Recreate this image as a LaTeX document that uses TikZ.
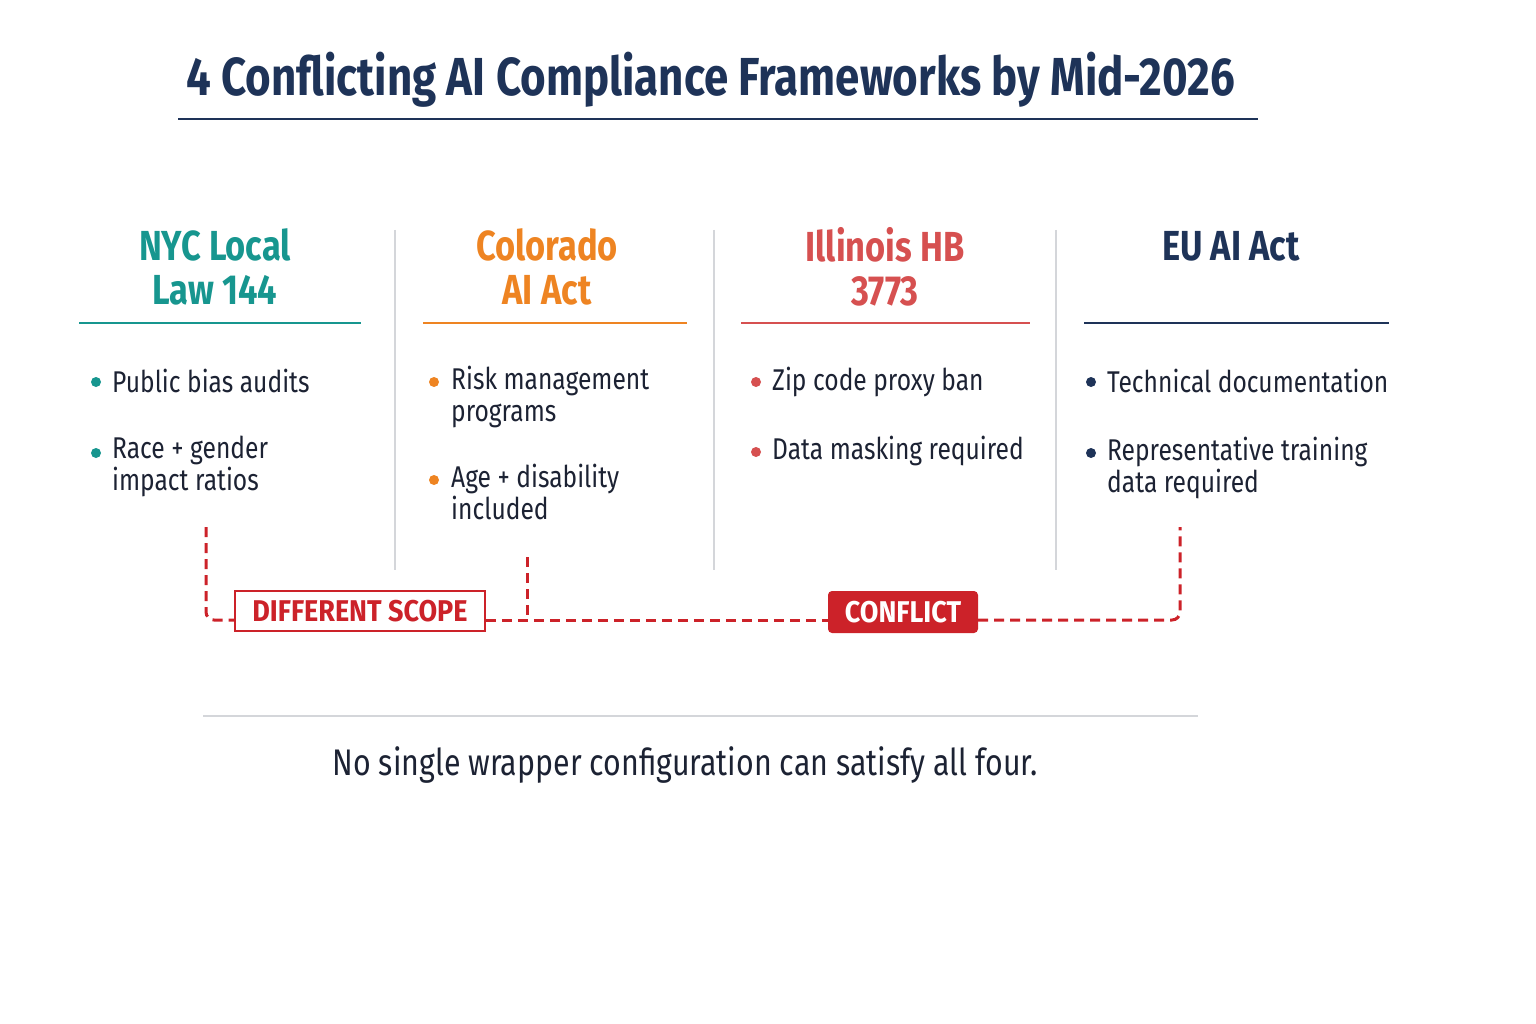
\documentclass[tikz,border=0pt]{standalone}
\usepackage{fontspec}
\setmainfont{Fira Sans}[FakeStretch=0.82]
\newfontfamily\labfont{Fira Sans}[FakeStretch=0.9]
\usetikzlibrary{positioning}
\definecolor{navy}{HTML}{1E3358}
\definecolor{teal}{HTML}{17968F}
\definecolor{orng}{HTML}{EE8422}
\definecolor{ilred}{HTML}{D65050}
\definecolor{dred}{HTML}{CC2229}
\definecolor{txt}{HTML}{1C2233}
\definecolor{sep}{HTML}{D4D6DA}
\tikzset{
  head/.style={font=\fontsize{42}{44}\selectfont\bfseries, align=center, inner sep=0pt},
  item/.style={font=\fontsize{30}{32}\selectfont, text=txt, anchor=west, align=left, inner sep=0pt},
  dot/.style={circle, inner sep=0pt, minimum size=10pt},
  dashline/.style={draw=dred, line width=3pt, dash pattern=on 10pt off 6pt},
  sepline/.style={draw=sep, line width=1.3pt},
  lab/.style={inner sep=0pt, font=\fontsize{30}{32}\labfont\bfseries},
}
\begin{document}
\begin{tikzpicture}[x=1pt,y=-1pt]
\useasboundingbox (0,0) rectangle (1536,1024);
% title
\node[anchor=west, inner sep=0pt, text=navy, font=\fontsize{53.5}{56}\selectfont\bfseries] (title) at (186,80) {4 Conflicting AI Compliance Frameworks by Mid-2026};
\draw[navy, line width=1.6pt] (178,119) -- (1258,119);
% headings
\node[head, text=teal] (h1) at (215,267) {NYC Local\\Law 144};
\node[head, text=orng] (h2) at (547,267) {Colorado\\AI Act};
\node[head, text=ilred] (h3) at (885,267) {Illinois HB\\3773};
\node[head, text=navy] (h4) at (1231,246) {EU AI Act};
\draw[teal, line width=1.6pt] (79,323) -- (361,323);
\draw[orng, line width=1.6pt] (423,323) -- (687,323);
\draw[ilred, line width=1.6pt] (741,323) -- (1030,323);
\draw[navy, line width=1.6pt] (1084,323) -- (1389,323);
% separators
\draw[sepline] (395,230) -- (395,570);
\draw[sepline] (714,230) -- (714,570);
\draw[sepline] (1056,230) -- (1056,570);
% NYC items
\node[dot, fill=teal] (d11) at (96,382) {};
\node[item] (t11) at (112,381) {Public bias audits};
\node[dot, fill=teal] (d12) at (96,453) {};
\node[item, anchor=north west] (t12) at (112,436) {Race + gender\\impact ratios};
% Colorado
\node[dot, fill=orng] (d21) at (434,382) {};
\node[item, anchor=north west] (t21) at (451,366) {Risk management\\programs};
\node[dot, fill=orng] (d22) at (434,480) {};
\node[item, anchor=north west] (t22) at (451,464) {Age + disability\\included};
% Illinois
\node[dot, fill=ilred] (d31) at (756,382) {};
\node[item] (t31) at (772,382) {Zip code proxy ban};
\node[dot, fill=ilred] (d32) at (756,452) {};
\node[item] (t32) at (772,451) {Data masking required};
% EU
\node[dot, fill=navy] (d41) at (1091,382) {};
\node[item] (t41) at (1107,381) {Technical documentation};
\node[dot, fill=navy] (d42) at (1091,453) {};
\node[item, anchor=north west] (t42) at (1107,437) {Representative training\\data required};
% connectors
\coordinate (liney) at (0,620);
\coordinate (nycdrop) at (206,527);
\coordinate (codrop) at (527,557);
\coordinate (eudrop) at (1180,527);
\node[lab, draw=dred, line width=1.8pt, fill=white, text=dred, minimum width=250pt, minimum height=40pt] (ds) at (360,611) {DIFFERENT SCOPE};
\node[lab, fill=dred, rounded corners=4pt, text=white, minimum width=150pt, minimum height=42pt] (cf) at (903,612) {CONFLICT};
\draw[dashline, rounded corners=8pt] (nycdrop) |- (ds.west |- liney);
\draw[dashline] (ds.east |- liney) -- (cf.west |- liney);
\draw[dashline] (codrop) -- (codrop |- liney);
\draw[dashline, rounded corners=8pt] (cf.east |- liney) -| (eudrop);
% bottom
\draw[sep, line width=1.3pt] (203,716) -- (1198,716);
\node[inner sep=0pt, text=txt, font=\fontsize{37}{40}\selectfont] (note) at (685,765) {No single wrapper configuration can satisfy all four.};
\end{tikzpicture}
\end{document}
